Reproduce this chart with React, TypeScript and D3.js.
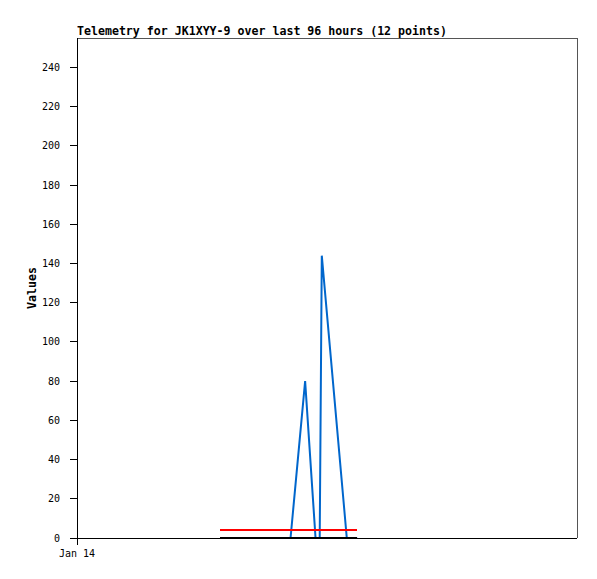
import React from "react";
import * as d3 from "d3";

const W = 597;
const H = 579;
const margin = { left: 77, right: 20, top: 38, bottom: 41 };

const titleText = "Telemetry for JK1XYY-9 over last 96 hours (12 points)";
const yLabel = "Values";
const xTickLabels = ["Jan 14"];
const xTickHours = [0];
const yTicks = [0, 20, 40, 60, 80, 100, 120, 140, 160, 180, 200, 220, 240];

// hours since Jan 14 00:00
const hours = [27.5, 29.8, 32.3, 36.1, 38.6, 41.0, 43.8, 45.8, 46.6, 47.0, 51.8, 53.8];
const valuesBlue = [0, 0, 0, 0, 0, 0, 80, 0, 0, 144, 0, 0];
const valuesRed = [4, 4, 4, 4, 4, 4, 4, 4, 4, 4, 4, 4];
const valuesBlack = [0, 0, 0, 0, 0, 0, 0, 0, 0, 0, 0, 0];

export default function App() {
  const x = d3.scaleLinear().domain([0, 96]).range([margin.left, W - margin.right]);
  const y = d3.scaleLinear().domain([0, 255]).range([H - margin.bottom, margin.top]);
  const mk = (vals: number[]) =>
    d3
      .line<number>()
      .x((_, i) => x(hours[i]))
      .y((d) => y(d))(vals) as string;

  const font = "'DejaVu Sans Mono', monospace";
  const x0 = margin.left;
  const x1 = W - margin.right;
  const yb = H - margin.bottom;
  const yt = margin.top;

  return (
    <svg
      width={W}
      height={H}
      style={{ position: "absolute", left: 0, top: 0, background: "#fff" }}
    >
      <text x={x0} y={35} fontFamily={font} fontWeight="bold" fontSize={11.6} fill="#000">
        {titleText}
      </text>
      <text
        transform={`translate(36,${(yt + yb) / 2}) rotate(-90)`}
        textAnchor="middle"
        fontFamily={font}
        fontWeight="bold"
        fontSize={11.6}
        fill="#000"
      >
        {yLabel}
      </text>
      {/* frame */}
      <g shapeRendering="crispEdges">
        <line x1={x0} x2={x1} y1={yt} y2={yt} stroke="#555" />
        <line x1={x1} x2={x1} y1={yt} y2={yb} stroke="#555" />
      </g>
      {/* data */}
      <path d={mk(valuesBlue)} fill="none" stroke="#0066cc" strokeWidth={2} />
      <path d={mk(valuesRed)} fill="none" stroke="#ff0000" strokeWidth={2} shapeRendering="crispEdges" />
      <path d={mk(valuesBlack)} fill="none" stroke="#000" strokeWidth={1} shapeRendering="crispEdges" transform="translate(0,-1)" />
      {/* axes */}
      <g shapeRendering="crispEdges">
        <line x1={x0} x2={x0} y1={yt} y2={yb + 7} stroke="#000" />
        <line x1={x0} x2={x1} y1={yb} y2={yb} stroke="#000" />
        {yTicks.map((t) => (
          <g key={t}>
            <line x1={x0 - 7} x2={x0} y1={y(t)} y2={y(t)} stroke="#000" />
            <text
              x={x0 - 17}
              y={y(t) + 3.5}
              textAnchor="end"
              fontFamily={font}
              fontSize={10}
              fill="#000"
            >
              {t}
            </text>
          </g>
        ))}
        {xTickHours.map((h, i) => (
          <text
            key={i}
            x={x(h)}
            y={H - 22}
            textAnchor="middle"
            fontFamily={font}
            fontSize={10}
            fill="#000"
          >
            {xTickLabels[i]}
          </text>
        ))}
      </g>
    </svg>
  );
}
